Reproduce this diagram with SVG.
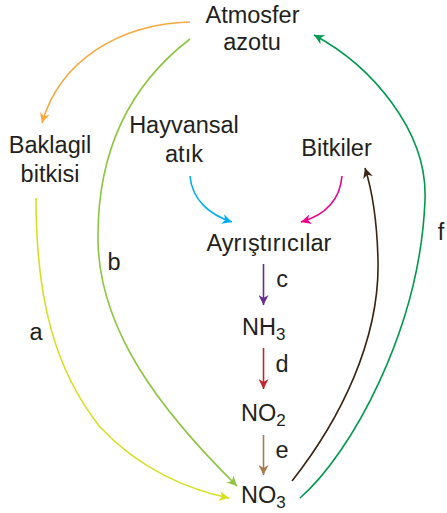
<svg xmlns="http://www.w3.org/2000/svg" width="447" height="513" viewBox="0 0 447 513">
<defs>
<style>
text{font-family:"Liberation Sans",Arial,sans-serif;font-size:23.5px;fill:#231F20}
.c{text-anchor:middle}
.sub{font-size:17px}
path.e{fill:none;stroke-width:1.6}
</style>
<marker id="m-or" viewBox="0 0 10 10" refX="10" refY="5" markerWidth="11" markerHeight="10" markerUnits="userSpaceOnUse" orient="auto"><path d="M0,0 L10,5 L0,10 L3,5 z" fill="#F7A940"/></marker>
<marker id="m-lg" viewBox="0 0 10 10" refX="10" refY="5" markerWidth="11" markerHeight="10" markerUnits="userSpaceOnUse" orient="auto"><path d="M0,0 L10,5 L0,10 L3,5 z" fill="#8DC63F"/></marker>
<marker id="m-yl" viewBox="0 0 10 10" refX="10" refY="5" markerWidth="11" markerHeight="10" markerUnits="userSpaceOnUse" orient="auto"><path d="M0,0 L10,5 L0,10 L3,5 z" fill="#D7DF23"/></marker>
<marker id="m-bl" viewBox="0 0 10 10" refX="10" refY="5" markerWidth="11" markerHeight="10" markerUnits="userSpaceOnUse" orient="auto"><path d="M0,0 L10,5 L0,10 L3,5 z" fill="#00AEEF"/></marker>
<marker id="m-pk" viewBox="0 0 10 10" refX="10" refY="5" markerWidth="11" markerHeight="10" markerUnits="userSpaceOnUse" orient="auto"><path d="M0,0 L10,5 L0,10 L3,5 z" fill="#EC008C"/></marker>
<marker id="m-pu" viewBox="0 0 10 10" refX="10" refY="5" markerWidth="11" markerHeight="10" markerUnits="userSpaceOnUse" orient="auto"><path d="M0,0 L10,5 L0,10 L3,5 z" fill="#662D91"/></marker>
<marker id="m-rd" viewBox="0 0 10 10" refX="10" refY="5" markerWidth="11" markerHeight="10" markerUnits="userSpaceOnUse" orient="auto"><path d="M0,0 L10,5 L0,10 L3,5 z" fill="#C1272D"/></marker>
<marker id="m-tn" viewBox="0 0 10 10" refX="10" refY="5" markerWidth="11" markerHeight="10" markerUnits="userSpaceOnUse" orient="auto"><path d="M0,0 L10,5 L0,10 L3,5 z" fill="#A67C52"/></marker>
<marker id="m-br" viewBox="0 0 10 10" refX="10" refY="5" markerWidth="11" markerHeight="10" markerUnits="userSpaceOnUse" orient="auto"><path d="M0,0 L10,5 L0,10 L3,5 z" fill="#3C2415"/></marker>
<marker id="m-gr" viewBox="0 0 10 10" refX="10" refY="5" markerWidth="11" markerHeight="10" markerUnits="userSpaceOnUse" orient="auto"><path d="M0,0 L10,5 L0,10 L3,5 z" fill="#009A4E"/></marker>
</defs>
<rect width="447" height="513" fill="#FFFFFF"/>

<g id="connectors">
<path class="e" stroke="#F7A940" d="M190,22 C120,24 60,60 42,123" marker-end="url(#m-or)"/>
<path class="e" stroke="#8DC63F" d="M190,39 C130,85 97,150 98,240 C99,330 160,410 237,486" marker-end="url(#m-lg)"/>
<path class="e" stroke="#D7DF23" d="M36,198 C36,300 55,370 100,427 C140,470 190,490 229,498" marker-end="url(#m-yl)"/>
<path class="e" stroke="#00AEEF" d="M190,176 C192,200 210,215 232,222" marker-end="url(#m-bl)"/>
<path class="e" stroke="#EC008C" d="M342,176 C340,200 325,215 301,222" marker-end="url(#m-pk)"/>
<path class="e" stroke="#662D91" d="M263.5,264 L263.5,305" marker-end="url(#m-pu)"/>
<path class="e" stroke="#C1272D" d="M263.5,348 L263.5,389" marker-end="url(#m-rd)"/>
<path class="e" stroke="#A67C52" d="M263.5,435 L263.5,475" marker-end="url(#m-tn)"/>
<path class="e" stroke="#3C2415" d="M292,481 C340,420 380,340 378,260 C377,220 372,190 365,168" marker-end="url(#m-br)"/>
<path class="e" stroke="#009A4E" d="M300,498 C350,455 420,330 425,200 C428,130 370,65 314,35" marker-end="url(#m-gr)"/>
</g>

<g id="labels">
<text class="c" x="36" y="340">a</text>
<text class="c" x="114" y="270">b</text>
<text class="c" x="282" y="287">c</text>
<text class="c" x="282" y="372">d</text>
<text class="c" x="282" y="458">e</text>
<text class="c" x="441" y="240">f</text>
</g>

<g id="node-atmosfer">
<text class="c" x="252.5" y="22.5">Atmosfer</text>
<text class="c" x="252" y="49.5">azotu</text>
</g>
<g id="node-baklagil">
<text class="c" x="50" y="153">Baklagil</text>
<text class="c" x="50" y="182">bitkisi</text>
</g>
<g id="node-hayvansal">
<text class="c" x="184" y="133">Hayvansal</text>
<text class="c" x="184" y="162">atık</text>
</g>
<g id="node-bitkiler">
<text class="c" x="336.5" y="156">Bitkiler</text>
</g>
<g id="node-ayristiricilar">
<text class="c" x="269" y="251">Ayrıştırıcılar</text>
</g>
<g id="node-nh3">
<text x="242" y="335">NH<tspan class="sub" dy="5">3</tspan></text>
</g>
<g id="node-no2">
<text x="241" y="421">NO<tspan class="sub" dy="5">2</tspan></text>
</g>
<g id="node-no3">
<text x="241" y="503">NO<tspan class="sub" dy="5">3</tspan></text>
</g>
</svg>
